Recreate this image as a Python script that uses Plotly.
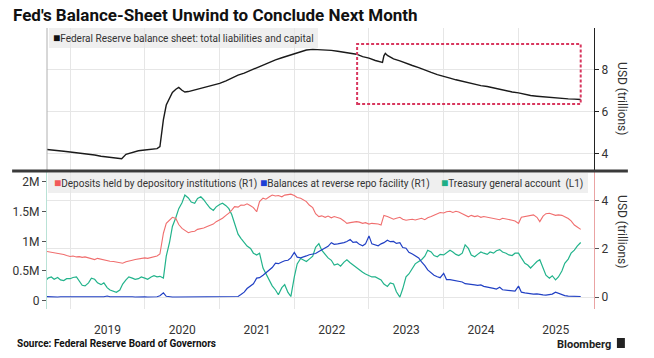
import plotly.graph_objects as go
import pandas as pd

# ---------------- data ----------------
BS_DATES = [
    "2018-09-01", "2018-10-01", "2018-11-01", "2018-12-01",
    "2019-01-01", "2019-02-01", "2019-03-01", "2019-04-01", "2019-05-01", "2019-06-01",
    "2019-07-01", "2019-08-01", "2019-09-10", "2019-10-01", "2019-11-01", "2019-12-01",
    "2020-01-01", "2020-02-01", "2020-03-01", "2020-03-15", "2020-04-01", "2020-04-15",
    "2020-05-01", "2020-05-15", "2020-06-01", "2020-06-15", "2020-07-01", "2020-07-15",
    "2020-08-01", "2020-09-01", "2020-10-01", "2020-11-01", "2020-12-01",
    "2021-01-01", "2021-02-01", "2021-03-01", "2021-04-01", "2021-05-01", "2021-06-01",
    "2021-07-01", "2021-08-01", "2021-09-01", "2021-10-01", "2021-11-01", "2021-12-01",
    "2022-01-01", "2022-02-01", "2022-03-01", "2022-04-01", "2022-05-01", "2022-06-01",
    "2022-07-01", "2022-08-01", "2022-09-01", "2022-10-01", "2022-11-01", "2022-12-01",
    "2023-01-01", "2023-02-01", "2023-03-08", "2023-03-15", "2023-03-22", "2023-04-01",
    "2023-05-01", "2023-06-01", "2023-07-01", "2023-08-01", "2023-09-01", "2023-10-01",
    "2023-11-01", "2023-12-01",
    "2024-01-01", "2024-02-01", "2024-03-01", "2024-04-01", "2024-05-01", "2024-06-01",
    "2024-07-01", "2024-08-01", "2024-09-01", "2024-10-01", "2024-11-01", "2024-12-01",
    "2025-01-01", "2025-02-01", "2025-03-01", "2025-04-01", "2025-05-01", "2025-06-01",
    "2025-07-01", "2025-08-01", "2025-09-01", "2025-10-01", "2025-11-01",
]
BALANCE_SHEET = [
    4.19, 4.17, 4.14, 4.10,
    4.06, 4.03, 3.99, 3.95, 3.92, 3.86,
    3.82, 3.78, 3.74, 3.95, 4.05, 4.12,
    4.16, 4.18, 4.22, 4.32, 5.60, 6.30,
    6.60, 6.90, 7.05, 7.14, 7.00, 6.92,
    6.94, 7.02, 7.12, 7.18, 7.25,
    7.33, 7.45, 7.58, 7.72, 7.82, 7.95,
    8.08, 8.20, 8.32, 8.45, 8.55, 8.65,
    8.75, 8.86, 8.92, 8.95, 8.94, 8.92,
    8.90, 8.86, 8.82, 8.77, 8.72, 8.60,
    8.53, 8.42, 8.33, 8.64, 8.76, 8.66,
    8.50, 8.40, 8.28, 8.18, 8.08, 7.95,
    7.85, 7.75,
    7.65, 7.58, 7.50, 7.42, 7.35, 7.27,
    7.22, 7.18, 7.11, 7.04, 6.97, 6.92,
    6.88, 6.80, 6.75, 6.72, 6.69, 6.66,
    6.63, 6.60, 6.59, 6.58, 6.56,
]

# semi-monthly observations (1st and 15th), Sep 2018 .. Nov 2025
DEPOSITS = [  # USD trillions (R1)
    1.90, 1.88, 1.86, 1.84, 1.80, 1.78, 1.76, 1.72,
    1.68, 1.70, 1.66, 1.67, 1.64, 1.66, 1.62, 1.58, 1.55, 1.60, 1.56, 1.52,
    1.50, 1.48, 1.47, 1.45, 1.42, 1.40, 1.46, 1.50, 1.52, 1.55, 1.58, 1.60,
    1.62, 1.60, 1.64, 1.66, 1.70, 1.78, 2.64, 3.05, 3.20, 3.30, 3.25, 3.00,
    2.84, 2.75, 2.66, 2.70, 2.72, 2.80, 2.82, 2.86, 2.92, 2.96, 3.02, 3.12,
    3.20, 3.26, 3.38, 3.47, 3.60, 3.74, 3.72, 3.81, 3.80, 3.86, 3.78, 3.70,
    3.53, 3.95, 4.09, 4.05, 4.15, 4.22, 4.18, 4.20, 4.15, 4.22, 4.24, 4.26,
    4.20, 4.12, 4.09, 4.02, 3.95, 3.81, 3.70, 3.45, 3.33, 3.36, 3.30, 3.35,
    3.28, 3.33, 3.30, 3.25, 3.15, 3.05, 3.08, 3.10, 3.12, 3.10, 3.05, 3.08,
    3.02, 3.05, 3.04, 3.02, 2.98, 3.38, 3.33, 3.28, 3.22, 3.26, 3.30, 3.22,
    3.18, 3.20, 3.22, 3.19, 3.24, 3.26, 3.20, 3.28, 3.33, 3.38, 3.45, 3.50,
    3.48, 3.53, 3.55, 3.50, 3.55, 3.52, 3.45, 3.40, 3.32, 3.38, 3.33, 3.36,
    3.30, 3.33, 3.30, 3.28, 3.26, 3.24, 3.20, 3.26, 3.24, 3.22, 3.18, 3.15,
    3.05, 3.30, 3.33, 3.36, 3.38, 3.40, 3.30, 3.12, 3.35, 3.45, 3.47, 3.42,
    3.38, 3.40, 3.38, 3.32, 3.25, 3.15, 2.98, 2.90, 2.80,
]
REVERSE_REPO = [  # USD trillions (R1)
    0.02, 0.01, 0.02, 0.01, 0.00, 0.01, 0.01, 0.02,
    0.02, 0.01, 0.01, 0.01, 0.01, 0.00, 0.02, 0.01, 0.01, 0.00, 0.01, 0.01,
    0.04, 0.01, 0.01, 0.00, 0.01, 0.01, 0.02, 0.01, 0.01, 0.00, 0.01, 0.01,
    0.01, 0.00, 0.00, 0.01, 0.01, 0.05, 0.17, 0.03, 0.00, 0.00, 0.00, 0.00,
    0.01, 0.00, 0.00, 0.00, 0.00, 0.00, 0.00, 0.00, 0.00, 0.00, 0.00, 0.01,
    0.01, 0.00, 0.00, 0.00, 0.01, 0.01, 0.02, 0.10, 0.20, 0.35, 0.45, 0.55,
    0.78, 0.80, 0.90, 1.00, 1.10, 1.22, 1.40, 1.38, 1.45, 1.50, 1.52, 1.62,
    1.85, 1.65, 1.62, 1.65, 1.70, 1.75, 1.78, 1.80, 1.88, 1.95, 2.00, 2.10,
    2.25, 2.18, 2.20, 2.22, 2.25, 2.30, 2.38, 2.26, 2.28, 2.18, 2.12, 2.20,
    2.53, 2.20, 2.15, 2.12, 2.20, 2.25, 2.35, 2.29, 2.30, 2.22, 2.25, 2.05,
    2.02, 1.85, 1.78, 1.72, 1.62, 1.45, 1.30, 1.12, 1.00, 0.90, 0.84, 0.80,
    0.98, 0.72, 0.72, 0.70, 0.66, 0.63, 0.62, 0.55, 0.54, 0.50, 0.50, 0.48,
    0.50, 0.44, 0.42, 0.38, 0.36, 0.33, 0.40, 0.30, 0.29, 0.27, 0.26, 0.24,
    0.45, 0.20, 0.17, 0.15, 0.14, 0.12, 0.13, 0.10, 0.09, 0.08, 0.10, 0.12,
    0.20, 0.15, 0.08, 0.06, 0.04, 0.03, 0.04, 0.02, 0.02,
]
TREASURY_GENERAL = [  # USD millions, in M (L1)
    0.32, 0.38, 0.40, 0.36, 0.39, 0.35, 0.34, 0.37,
    0.37, 0.39, 0.40, 0.33, 0.26, 0.25, 0.30, 0.38, 0.36, 0.30, 0.27, 0.30,
    0.22, 0.18, 0.16, 0.14, 0.18, 0.28, 0.35, 0.40, 0.38, 0.36, 0.37, 0.40,
    0.38, 0.36, 0.40, 0.42, 0.40, 0.41, 0.38, 0.75, 0.98, 1.25, 1.40, 1.55,
    1.65, 1.78, 1.73, 1.66, 1.64, 1.72, 1.75, 1.70, 1.62, 1.56, 1.52, 1.58,
    1.62, 1.64, 1.60, 1.55, 1.45, 1.30, 1.12, 1.05, 0.98, 0.92, 0.88, 0.80,
    0.77, 0.80, 0.55, 0.45, 0.35, 0.25, 0.18, 0.10, 0.22, 0.27, 0.14, 0.07,
    0.40, 0.62, 0.71, 0.68, 0.66, 0.70, 0.75, 0.90, 0.96, 0.85, 0.77, 0.72,
    0.68, 0.60, 0.62, 0.58, 0.65, 0.69, 0.64, 0.60, 0.55, 0.52, 0.48, 0.45,
    0.42, 0.40, 0.40, 0.38, 0.35, 0.28, 0.24, 0.30, 0.28, 0.15, 0.06, 0.20,
    0.40, 0.45, 0.55, 0.62, 0.66, 0.69, 0.75, 0.85, 0.82, 0.76, 0.74, 0.78,
    0.77, 0.80, 0.85, 0.82, 0.78, 0.76, 0.80, 0.94, 0.88, 0.77, 0.74, 0.78,
    0.82, 0.80, 0.78, 0.82, 0.80, 0.84, 0.86, 0.82, 0.80, 0.77, 0.76, 0.80,
    0.80, 0.72, 0.63, 0.60, 0.55, 0.60, 0.66, 0.69, 0.56, 0.43, 0.38, 0.42,
    0.35, 0.40, 0.50, 0.63, 0.70, 0.80, 0.85, 0.92, 0.98,
]
SEMI_DATES = pd.date_range("2018-09-01", "2025-11-01", freq="SMS")

LEFT_TICKS = [0, 0.5, 1, 1.5, 2]
LEFT_LABELS = ["0", "0.5M", "1M", "1.5M", "2M"]
TOP_TICKS = [4, 6, 8]
RIGHT_TICKS = [0, 2, 4]

TITLE = "Fed's Balance-Sheet Unwind to Conclude Next Month"
SOURCE = "Source: Federal Reserve Board of Governors"

# ---------------- style ----------------
W, H = 654, 358
ML, MR, MT, MB = 45, 60, 28, 49
PW, PH = W - ML - MR, H - MT - MB
FONT = "Roboto"
TXT = "#333333"
GRID = "#e6e6e6"
C_BS = "#1a1a1a"
C_RED = "#f06e6e"
C_BLUE = "#2140c4"
C_GREEN = "#22b38b"


def px_x(p):
    return (p - ML) / PW


def px_y(p):
    return (H - MB - p) / PH


SPLIT = px_y(171)
BOT_TOP = px_y(172)

fig = go.Figure()
fig.add_trace(go.Scatter(x=BS_DATES, y=BALANCE_SHEET, mode="lines",
                         line=dict(color=C_BS, width=1.4), xaxis="x", yaxis="y",
                         showlegend=False))
fig.add_trace(go.Scatter(x=SEMI_DATES, y=DEPOSITS, mode="lines",
                         line=dict(color=C_RED, width=1.1), xaxis="x2", yaxis="y3",
                         showlegend=False))
fig.add_trace(go.Scatter(x=SEMI_DATES, y=REVERSE_REPO, mode="lines",
                         line=dict(color=C_BLUE, width=1.2), xaxis="x2", yaxis="y3",
                         showlegend=False))
fig.add_trace(go.Scatter(x=SEMI_DATES, y=TREASURY_GENERAL, mode="lines",
                         line=dict(color=C_GREEN, width=1.2), xaxis="x2", yaxis="y2",
                         showlegend=False))

XR = ["2018-09-10", "2026-01-05"]
common_x = dict(range=XR, type="date", tick0="2019-01-01", dtick="M12",
                showgrid=True, gridcolor=GRID, gridwidth=1, zeroline=False,
                showline=False)

fig.update_layout(
    width=W, height=H, margin=dict(l=ML, r=MR, t=MT, b=MB),
    paper_bgcolor="white", plot_bgcolor="white",
    font=dict(family=FONT, size=11, color=TXT),
    xaxis=dict(**common_x, anchor="y", showticklabels=False, ticks=""),
    xaxis2=dict(**common_x, anchor="y2", matches="x", ticklabelmode="period",
                tickformat="%Y", ticks="outside", ticklen=10,
                tickcolor="rgba(0,0,0,0)", tickfont=dict(size=12, color=TXT)),
    yaxis=dict(domain=[SPLIT, 1], range=[3.157, 9.967], side="right", anchor="x",
               tickvals=TOP_TICKS, showgrid=True, gridcolor=GRID, zeroline=False,
               showline=True, linecolor="#222222", linewidth=1.2,
               ticks="outside", ticklen=4, tickcolor="#222222",
               tickfont=dict(size=12, color=TXT)),
    yaxis2=dict(domain=[0, BOT_TOP], range=[-0.140, 2.167], side="left", anchor="x2",
                tickvals=LEFT_TICKS, ticktext=LEFT_LABELS, showgrid=False,
                zeroline=False, showline=True, linecolor="#b9e2d6", linewidth=1,
                ticks="outside", ticklen=4, tickcolor="#555555",
                tickfont=dict(size=12, color=TXT)),
    yaxis3=dict(domain=[0, BOT_TOP], range=[-0.497, 5.176], side="right",
                anchor="x2", overlaying="y2", tickvals=RIGHT_TICKS,
                showgrid=True, gridcolor=GRID, zeroline=False,
                showline=True, linecolor="#eaa3a3", linewidth=1.2,
                ticks="outside", ticklen=4, tickcolor="#555555",
                tickfont=dict(size=12, color=TXT)),
)

shapes = [
    # top-panel left frame line
    dict(type="line", xref="paper", yref="paper", x0=0, x1=0, y0=SPLIT, y1=1,
         line=dict(color="#b0b0b0", width=1)),
    # separator between the panels
    dict(type="line", xref="paper", yref="paper", x0=px_x(10), x1=px_x(628),
         y0=SPLIT, y1=SPLIT, line=dict(color="#3a3a3a", width=3)),
    # highlight box around the unwind period
    dict(type="rect", xref="x", yref="y", x0="2022-11-04", x1="2025-11-01",
         y0=6.35, y1=9.2, line=dict(color="#d8375e", width=2, dash="3px,2px"),
         fillcolor="rgba(0,0,0,0)"),
    # legend background, bottom panel
    dict(type="rect", xref="paper", yref="paper", x0=px_x(46), x1=px_x(588),
         y0=px_y(193), y1=px_y(173), fillcolor="#efefef", line=dict(width=0),
         layer="below"),
    # legend background, top panel
    dict(type="rect", xref="paper", yref="paper", x0=px_x(47), x1=px_x(317),
         y0=px_y(48), y1=px_y(28), fillcolor="#efefef", line=dict(width=0),
         layer="below"),
    # Bloomberg logo mark
    dict(type="rect", xref="paper", yref="paper", x0=px_x(617), x1=px_x(625),
         y0=px_y(348), y1=px_y(338), fillcolor="#222222", line=dict(width=0)),
]
fig.update_layout(shapes=shapes)


def sq(color):
    return f'<span style="color:{color};font-size:12px">■</span>'


ann = []
ann.append(dict(text=f"<b>{TITLE}</b>", x=px_x(9), y=px_y(15), xref="paper",
                yref="paper", xanchor="left", yanchor="middle", showarrow=False,
                font=dict(size=17, color="#111111", family=FONT)))
ann.append(dict(text=sq("#111111") + "Federal Reserve balance sheet: total liabilities and capital",
                x=px_x(49), y=px_y(38), xref="paper", yref="paper",
                xanchor="left", yanchor="middle", showarrow=False,
                font=dict(size=10, color=TXT)))
for label, color, xp in [
    ("Deposits held by depository institutions (R1)", "#f25a5a", 50),
    ("Balances at reverse repo facility (R1)", "#1c3fd6", 257),
    ("Treasury general account  (L1)", "#1fae86", 438),
]:
    ann.append(dict(text=sq(color) + label, x=px_x(xp), y=px_y(183),
                    xref="paper", yref="paper", xanchor="left", yanchor="middle",
                    showarrow=False, font=dict(size=10, color=TXT)))
for yc in (99, 232):
    ann.append(dict(text="USD (trillions)", x=px_x(622), y=px_y(yc), xref="paper",
                    yref="paper", xanchor="center", yanchor="middle",
                    textangle=90, showarrow=False, font=dict(size=12, color=TXT)))
ann.append(dict(text=f"<b>{SOURCE}</b>", x=px_x(13), y=px_y(343), xref="paper",
                yref="paper", xanchor="left", yanchor="middle", showarrow=False,
                font=dict(size=10, color="#111111")))
ann.append(dict(text="<b>Bloomberg</b>", x=px_x(613), y=px_y(344), xref="paper",
                yref="paper", xanchor="right", yanchor="middle", showarrow=False,
                font=dict(size=11, color="#222222")))
fig.update_layout(annotations=ann)

fig.write_html("out.html", config={"displayModeBar": False},
               post_script="document.body.style.margin='0';document.body.style.padding='0';")
